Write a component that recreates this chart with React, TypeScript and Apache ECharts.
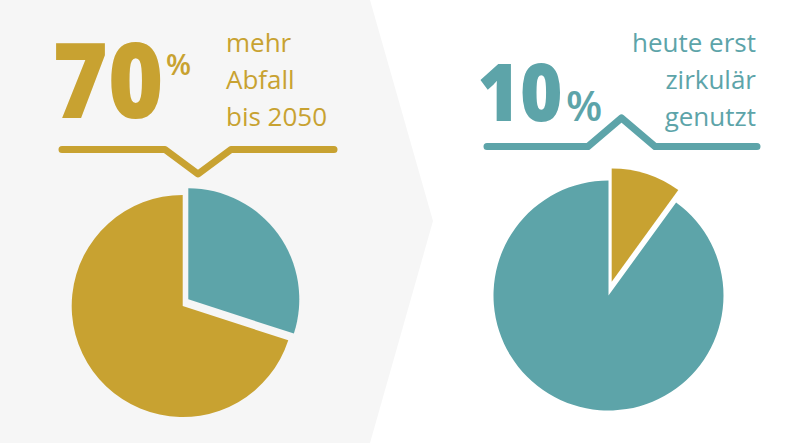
import React, { useEffect, useRef } from "react";
import * as echarts from "echarts";

const GOLD = "#C8A231";
const TEAL = "#5DA4A9";
const BG = "#f6f6f6";

// Left chart: waste growth by 2050
const leftCategories = ["Zusätzlich", "Basis"];
const leftValues = [30, 70];
const leftHeadline = "70";
const leftCaption = ["mehr", "Abfall", "bis 2050"];

// Right chart: circular use today
const rightCategories = ["zirkulär", "nicht zirkulär"];
const rightValues = [10, 90];
const rightHeadline = "10";
const rightCaption = ["heute erst", "zirkulär", "genutzt"];

const FONT = "'Open Sans', sans-serif";

function slices(categories: string[], values: number[], colors: (string | null)[]) {
  return categories.map((name, i) => ({
    name,
    value: values[i],
    itemStyle: { color: colors[i] ?? "rgba(0,0,0,0)" },
  }));
}

export default function App() {
  const ref = useRef<HTMLDivElement>(null);
  useEffect(() => {
    if (!ref.current) return;
    const chart = echarts.init(ref.current, undefined, { renderer: "svg" });
    const pieBase = {
      type: "pie" as const,
      startAngle: 90,
      clockwise: true,
      silent: true,
      label: { show: false },
      labelLine: { show: false },
      emphasis: { disabled: true },
    };
    chart.setOption({
      animation: false,
      backgroundColor: "#ffffff",
      graphic: [
        {
          type: "polygon",
          z: -10,
          shape: { points: [[0, 0], [370, 0], [433, 221], [370, 443], [0, 443]] },
          style: { fill: BG },
        },
        {
          type: "text",
          x: 52.5,
          y: 78,
          scaleX: 0.91,
          style: {
            text: leftHeadline,
            font: `800 104px ${FONT}`,
            fill: GOLD,
            align: "left",
            verticalAlign: "middle",
          },
        },
        {
          type: "text",
          x: 166,
          y: 63.5,
          style: { text: "%", font: `600 29px ${FONT}`, fill: GOLD, align: "left", verticalAlign: "middle" },
        },
        {
          type: "text",
          x: 226,
          y: 24,
          style: {
            text: leftCaption.join("\n"),
            font: `26px ${FONT}`,
            lineHeight: 36.7,
            fill: GOLD,
            align: "left",
            verticalAlign: "top",
          },
        },
        {
          type: "polyline",
          shape: { points: [[62, 149.5], [165, 149.5], [198, 174], [231, 149.5], [334, 149.5]] },
          style: { stroke: GOLD, lineWidth: 7, lineCap: "round", lineJoin: "round", fill: null },
        },
        {
          type: "text",
          x: 477.5,
          y: 90.5,
          scaleX: 0.92,
          style: {
            text: rightHeadline,
            font: `800 79px ${FONT}`,
            fill: TEAL,
            align: "left",
            verticalAlign: "middle",
          },
        },
        {
          type: "text",
          x: 566,
          y: 104,
          style: { text: "%", font: `600 42px ${FONT}`, fill: TEAL, align: "left", verticalAlign: "middle" },
        },
        {
          type: "text",
          x: 756,
          y: 24,
          style: {
            text: rightCaption.join("\n"),
            font: `26px ${FONT}`,
            lineHeight: 36.7,
            fill: TEAL,
            align: "right",
            verticalAlign: "top",
          },
        },
        {
          type: "polyline",
          shape: { points: [[487, 146.5], [588, 146.5], [621.5, 118], [655, 146.5], [757, 146.5]] },
          style: { stroke: TEAL, lineWidth: 7, lineCap: "round", lineJoin: "round", fill: null },
        },
      ],
      series: [
        { ...pieBase, center: [182.7, 306], radius: 111, data: slices(leftCategories, leftValues, [null, GOLD]) },
        { ...pieBase, center: [188.3, 299.3], radius: 111, data: slices(leftCategories, leftValues, [TEAL, null]) },
        { ...pieBase, center: [608.5, 295.5], radius: 115, data: slices(rightCategories, rightValues, [null, TEAL]) },
        { ...pieBase, center: [611.7, 281.7], radius: 113.3, data: slices(rightCategories, rightValues, [GOLD, null]) },
      ],
    });
    return () => chart.dispose();
  }, []);
  return <div ref={ref} style={{ position: "fixed", left: 0, top: 0, width: 800, height: 443 }} />;
}
